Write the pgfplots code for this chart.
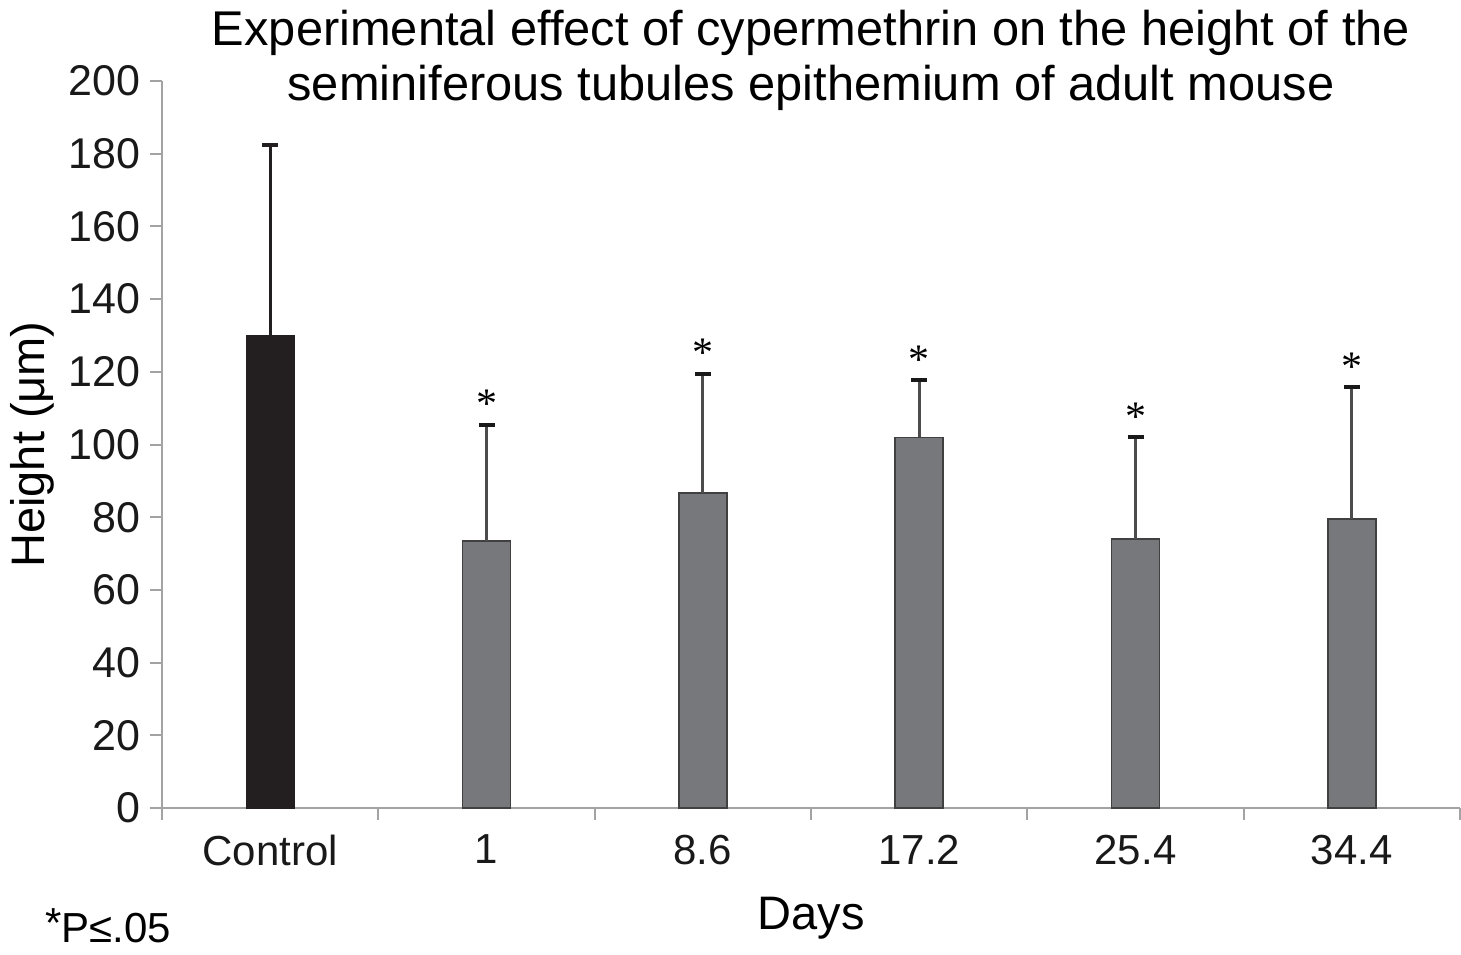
\documentclass[border=0pt]{standalone}
\usepackage{fontspec}
\setmainfont{Liberation Sans}
\newfontfamily\starfont{Liberation Serif}
\usepackage{pgfplots}
\pgfplotsset{compat=1.18}

\definecolor{ctrl}{HTML}{231F20}
\definecolor{bargray}{HTML}{77787B}
\definecolor{axisgray}{HTML}{A3A3A3}

\begin{document}
\begin{tikzpicture}
\begin{axis}[
    name=ax,
    scale only axis,
    width=649pt, height=363.5pt,
    xmin=-0.5, xmax=5.5,
    ymin=0, ymax=200,
    axis x line*=bottom,
    axis y line*=left,
    axis line style={axisgray, line width=1pt},
    xtick={0,...,5},
    xticklabels={Control,1,8.6,17.2,25.4,34.4},
    minor xtick={-0.5,0.5,...,5.5},
    xtick style={draw=none},
    minor x tick style={draw=axisgray, line width=1pt},
    ytick={0,20,...,200},
    ytick style={draw=axisgray, line width=1pt},
    tick align=outside,
    major tick length=6pt,
    minor tick length=6pt,
    /pgf/number format/assume math mode=true,
    ticklabel style={font=\fontsize{21.5}{21.5}\selectfont, text=black!90},
    xticklabel style={yshift=-4pt, font=\fontsize{21}{21}\selectfont},
    yticklabel style={xshift=-1.5pt},
    xlabel={Days},
    ylabel={Height (μm)},
    label style={font=\fontsize{23.5}{23.5}\selectfont},
    xlabel style={at={(axis description cs:0.5,0)}, anchor=center, yshift=-55pt},
    ylabel style={at={(axis description cs:-0.1002,0.5)}, anchor=center},
    title={Experimental effect of cypermethrin on the height of the\\seminiferous tubules epithemium of adult mouse},
    title style={font=\fontsize{24.4}{27.5}\selectfont, align=center, inner sep=0pt,
        at={(axis description cs:0.5,1)}, anchor=center, yshift=4.5pt},
    clip=false,
]
% control
\addplot[ybar, bar shift=0pt, bar width=0.222, fill=ctrl, draw=ctrl,
    error bars/.cd, y dir=plus, y explicit, error mark=-,
    error bar style={ctrl, line width=1.6pt},
    error mark options={rotate=90, mark size=4pt, line width=2pt, ctrl}]
    coordinates {(0,130) +- (0,52.4)};
% treated groups
\addplot[ybar, bar shift=0pt, bar width=0.222, fill=bargray, draw=black!75, line width=0.7pt,
    error bars/.cd, y dir=plus, y explicit, error mark=-,
    error bar style={black!70, line width=1.6pt},
    error mark options={rotate=90, mark size=4pt, line width=2pt, black!90}]
    coordinates {
        (1,73.5) +- (0,31.9)
        (2,86.7) +- (0,32.7)
        (3,102.0) +- (0,15.7)
        (4,74.0) +- (0,28.0)
        (5,79.5) +- (0,36.3)
    };
% significance marks at the top of the error bars
\addplot[draw=none, mark=none,
    nodes near coords={\starfont\fontsize{21}{21}\selectfont *},
    every node near coord/.append style={anchor=base, yshift=3.5pt, inner sep=0pt}]
    coordinates {(1,105.4) (2,119.4) (3,117.7) (4,102.0) (5,115.8)};
\end{axis}
\node[anchor=base west, inner sep=0pt, font=\fontsize{21}{21}\selectfont] at ([xshift=-58.5pt, yshift=-67pt]ax.south west) {\raisebox{2.5pt}{*}P≤.05};
\pgfresetboundingbox
\path[use as bounding box] ([xshift=-81pt, yshift=-73pt]ax.south west) rectangle ([xshift=0.5pt, yshift=40.5pt]ax.north east);
\end{tikzpicture}
\end{document}
